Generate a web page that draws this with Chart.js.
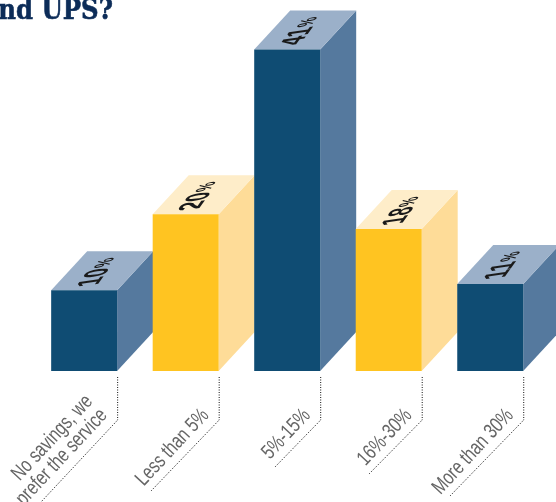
<!DOCTYPE html>
<html>
<head>
<meta charset="utf-8">
<style>
    html, body { margin: 0; padding: 0; background: #ffffff; overflow: hidden; }
    canvas { display: block; }
</style>
<script src="https://cdn.jsdelivr.net/npm/chart.js@4"></script>
</head>
<body>
<canvas id="savingsChart" width="556" height="502"></canvas>
<script>
// Chart data
const categories = [
    ['No savings, we', 'prefer the service'],
    ['Less than 5%'],
    ['5%-15%'],
    ['16%-30%'],
    ['More than 30%']
];
const barValues = [10.3, 20, 41, 18.1, 11.1];
const valueLabels = ['10', '20', '41', '18', '11'];

// Colours per bar: front, side, top
const frontColors = ['#0f4c73', '#ffc421', '#0f4c73', '#ffc421', '#0f4c73'];
const sideColors = ['#55799e', '#fedc98', '#55799e', '#fedc98', '#55799e'];
const topColors = ['#9bb0c9', '#feedc9', '#9bb0c9', '#feedc9', '#9bb0c9'];

const depthX = 36;
const depthY = 39;

// Side and top faces of the 3D bars
const faces3d = {
    id: 'faces3d',
    beforeDatasetsDraw(chart) {
        const c = chart.ctx;
        chart.getDatasetMeta(0).data.forEach((bar, i) => {
            const left = bar.x - bar.width / 2;
            const right = bar.x + bar.width / 2;

            c.fillStyle = sideColors[i];
            c.beginPath();
            c.moveTo(right, bar.y);
            c.lineTo(right + depthX, bar.y - depthY);
            c.lineTo(right + depthX, bar.base - depthY);
            c.lineTo(right, bar.base);
            c.closePath();
            c.fill();

            c.fillStyle = topColors[i];
            c.beginPath();
            c.moveTo(left, bar.y);
            c.lineTo(left + depthX, bar.y - depthY);
            c.lineTo(right + depthX, bar.y - depthY);
            c.lineTo(right, bar.y);
            c.closePath();
            c.fill();
        });
    }
};

// Value labels lying on the top faces, dotted leaders and slanted category labels
const annotations = {
    id: 'annotations',
    afterDatasetsDraw(chart) {
        const c = chart.ctx;
        const leaderEnds = [[41, 502], [151, 491], [275, 467], [369, 474], [450, 496]];

        chart.getDatasetMeta(0).data.forEach((bar, i) => {
            const right = bar.x + bar.width / 2;

            // value label: heavy digits, small percent sign
            c.save();
            c.transform(0.55, -0.76, 1.55, -0.22, bar.x + 15, bar.y - 19);
            c.fillStyle = '#1a1a1a';
            c.textBaseline = 'middle';
            c.textAlign = 'right';
            c.font = 'bold 21px "Liberation Sans", sans-serif';
            c.fillText(valueLabels[i], 4, 0);
            c.textAlign = 'left';
            c.font = 'bold 14px "Liberation Sans", sans-serif';
            c.fillText('%', 5, 0);
            c.restore();

            // dotted leader
            c.save();
            c.strokeStyle = '#111111';
            c.lineWidth = 1;
            c.setLineDash([1, 1.5]);
            c.beginPath();
            c.moveTo(right + 0.5, 377);
            c.lineTo(right + 0.5, 420);
            c.lineTo(leaderEnds[i][0], leaderEnds[i][1]);
            c.stroke();
            c.restore();

            // category label
            c.save();
            c.translate(right - 9, 416);
            c.rotate(-47 * Math.PI / 180);
            c.scale(0.76, 1);
            c.font = '21px "Liberation Sans", sans-serif';
            c.fillStyle = '#666666';
            c.textAlign = 'right';
            c.textBaseline = 'alphabetic';
            const lines = categories[i];
            lines.forEach((line, n) => {
                c.fillText(line, 0, (n - lines.length + 1) * 20);
            });
            c.restore();
        });

        // clipped heading from the page above
        c.save();
        c.scale(0.87, 1);
        c.font = 'bold 28px "DejaVu Serif", serif';
        c.fillStyle = '#0c2c58';
        c.strokeStyle = '#0c2c58';
        c.lineWidth = 0.6;
        c.textAlign = 'left';
        c.textBaseline = 'alphabetic';
        c.fillText('nd UPS?', -2, 19);
        c.strokeText('nd UPS?', -2, 19);
        c.restore();
    }
};

new Chart(document.getElementById('savingsChart'), {
    type: 'bar',
    data: {
        labels: categories,
        datasets: [{
            data: barValues,
            backgroundColor: frontColors,
            borderWidth: 0,
            barPercentage: 0.65,
            categoryPercentage: 1
        }]
    },
    options: {
        responsive: false,
        animation: false,
        layout: { padding: { left: 33.4, right: 15, top: 0, bottom: 131 } },
        plugins: {
            legend: { display: false },
            tooltip: { enabled: false },
            title: { display: false }
        },
        scales: {
            x: { display: false },
            y: { display: false, min: 0, max: 47.3 }
        }
    },
    plugins: [faces3d, annotations]
});
</script>
</body>
</html>
